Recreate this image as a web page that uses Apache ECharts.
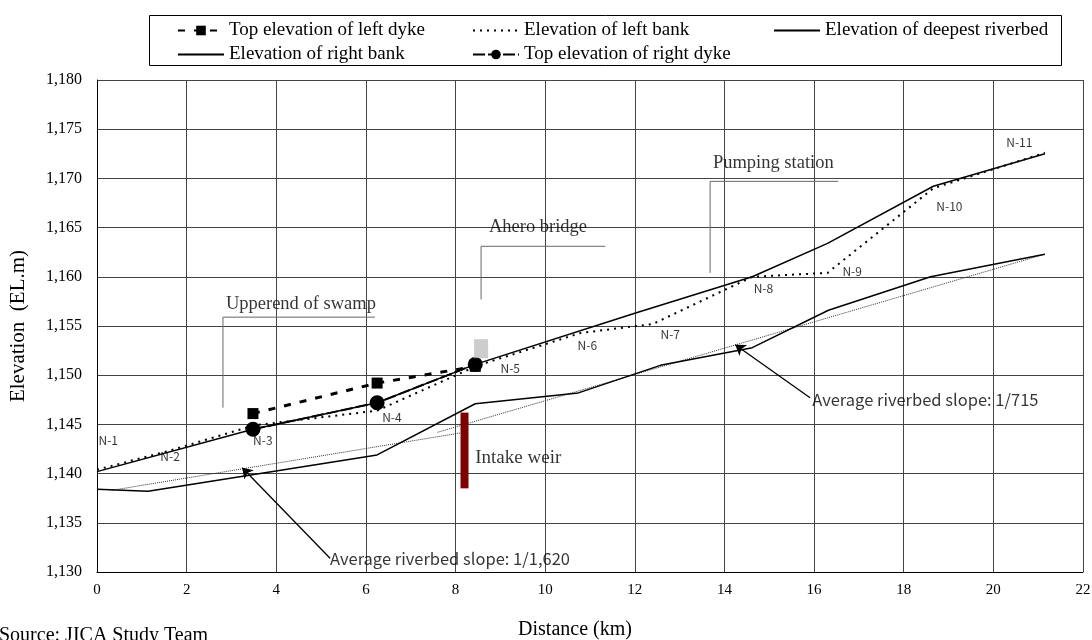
<!DOCTYPE html>
<html>
<head>
<meta charset="utf-8">
<title>River profile</title>
<script src="https://cdn.jsdelivr.net/npm/echarts@6.0.0/dist/echarts.min.js"></script>
<style>
  html, body { margin: 0; padding: 0; background: #fff; }
  #main { width: 1092px; height: 640px; }
</style>
</head>
<body>
<div id="main"></div>
<script>
// 数据（距离 km / 高程 m）
var xTicks = [0, 2, 4, 6, 8, 10, 12, 14, 16, 18, 20, 22];
var yTicks = [1130, 1135, 1140, 1145, 1150, 1155, 1160, 1165, 1170, 1175, 1180];

var leftDykeX = [3.48, 6.25, 8.44];
var leftDykeY = [1146.1, 1149.2, 1150.9];

var leftBankX = [0, 1.6, 3.5, 6.25, 8.5, 10.8, 12.4, 14.62, 16.3, 18.66, 21.15];
var leftBankY = [1140.4, 1142.3, 1144.9, 1146.4, 1151.0, 1154.3, 1155.2, 1160.0, 1160.4, 1169.0, 1172.6];

var riverbedX = [0, 1.14, 6.25, 8.44, 10.74, 12.57, 14.62, 16.32, 18.6, 21.15];
var riverbedY = [1138.4, 1138.2, 1141.9, 1147.1, 1148.2, 1151.0, 1152.8, 1156.6, 1160.0, 1162.3];

var rightBankX = [0, 3.48, 6.25, 8.44, 12.0, 14.62, 16.3, 18.66, 21.15];
var rightBankY = [1140.2, 1144.5, 1147.2, 1151.1, 1156.3, 1160.0, 1163.4, 1169.2, 1172.5];

var rightDykeX = [3.48, 6.25, 8.44];
var rightDykeY = [1144.5, 1147.2, 1151.1];

// 平均河床坡度线
var slope1X = [0.33, 8.2];
var slope1Y = [1138.3, 1144.2];
var slope2X = [7.6, 21.15];
var slope2Y = [1144.2, 1162.3];

// 取水堰、桥墩
var weirX = [8.2, 8.2];
var weirY = [1138.5, 1146.2];
var pierPoint = [8.57, 1152.7];

// 断面编号
var sectionNames = ['N-1', 'N-2', 'N-3', 'N-4', 'N-5', 'N-6', 'N-7', 'N-8', 'N-9', 'N-10', 'N-11'];
var sectionX = [0.25, 1.63, 3.7, 6.58, 9.22, 10.94, 12.79, 14.87, 16.85, 19.02, 20.58];
var sectionY = [1143.4, 1141.7, 1143.4, 1145.75, 1150.7, 1153.0, 1154.1, 1158.8, 1160.5, 1167.1, 1173.7];

// 标注文字与引线
var noteNames = ['Upperend of swamp', 'Ahero bridge', 'Pumping station'];
var noteX = [4.55, 9.84, 15.09];
var noteY = [1157.2, 1165.0, 1171.6];
var swampLeader = [[2.81, 1146.7], [2.81, 1155.9], [6.2, 1155.9]];
var bridgeLeader = [[8.57, 1157.7], [8.57, 1163.1], [11.34, 1163.1]];
var pumpLeader = [[13.68, 1160.4], [13.68, 1169.7], [16.54, 1169.7]];

var slopeNames = ['Average riverbed slope: 1/1,620', 'Average riverbed slope: 1/715'];
var slopeTextX = [5.2, 15.96];
var slopeTextY = [1131.3, 1147.5];
var arrowFrom = [[5.2, 1131.4], [15.91, 1147.7]];
var arrowTo = [[3.24, 1140.6], [14.24, 1153.1]];

function zip(xs, ys) {
  return xs.map(function (x, i) { return [x, ys[i]]; });
}

var serif = 'Liberation Serif';
var gothic = 'Noto Sans CJK JP';

var myChart = echarts.init(document.getElementById('main'));

// 每个图例单独放置；lineOnly 时隐藏默认的圆点
function legendAt(name, left, top, lineOnly) {
  var lg = {
    data: [name], left: left, top: top,
    itemWidth: 46, itemHeight: 12, itemGap: 6,
    textStyle: { fontFamily: serif, fontSize: 19, color: '#000' },
    selectedMode: false
  };
  if (lineOnly) {
    lg.itemStyle = { opacity: 0 };
  }
  return lg;
}

function leader(pts) {
  return {
    type: 'line', data: pts, symbol: 'none', silent: true, z: 1,
    lineStyle: { color: '#666', width: 1 }
  };
}

var option = {
  animation: false,
  backgroundColor: '#fff',
  legend: [
    legendAt('Top elevation of left dyke', 172, 16, false),
    legendAt('Elevation of left bank', 467, 16, true),
    legendAt('Elevation of deepest riverbed', 768, 16, true),
    legendAt('Elevation of right bank', 172, 40, true),
    legendAt('Top elevation of right dyke', 467, 40, false)
  ],
  graphic: [
    {
      type: 'rect', left: 147, top: 13, silent: true,
      shape: { width: 912, height: 50 },
      style: { fill: 'none', stroke: '#000', lineWidth: 1 }
    },
    {
      type: 'text', left: -1, top: 626, silent: true,
      style: { text: 'Source: JICA Study Team', font: '20px ' + serif, fill: '#000' }
    }
  ],
  grid: { left: 97, right: 9, top: 80, bottom: 68, containLabel: false, outerBoundsMode: 'none' },
  xAxis: {
    type: 'value', min: 0, max: 22, interval: 2,
    name: 'Distance (km)', nameLocation: 'middle', nameGap: 48,
    nameTextStyle: { fontFamily: serif, fontSize: 20, color: '#000', padding: [0, 30, 0, 0] },
    axisLine: { lineStyle: { color: '#000' } },
    axisTick: { show: false },
    axisLabel: { fontFamily: serif, fontSize: 15, color: '#000', margin: 11 },
    splitLine: { lineStyle: { color: '#444', width: 1 } }
  },
  yAxis: {
    type: 'value', min: 1130, max: 1180, interval: 5,
    name: 'Elevation  (EL.m)', nameLocation: 'middle', nameGap: 68,
    nameTextStyle: { fontFamily: serif, fontSize: 21, color: '#000' },
    axisLine: { show: true, lineStyle: { color: '#000' } },
    axisTick: { show: false },
    axisLabel: {
      fontFamily: serif, fontSize: 16, color: '#000', margin: 15,
      formatter: function (v) { return v.toLocaleString('en-US'); }
    },
    splitLine: { lineStyle: { color: '#444', width: 1 } }
  },
  series: [
    leader(swampLeader),
    leader(bridgeLeader),
    leader(pumpLeader),
    {
      name: 'slope1', type: 'line', data: zip(slope1X, slope1Y), symbol: 'none', z: 2,
      lineStyle: { color: '#333', width: 1, type: [1, 1] }
    },
    {
      name: 'slope2', type: 'line', data: zip(slope2X, slope2Y), symbol: 'none', z: 2,
      lineStyle: { color: '#333', width: 1, type: [1, 1] }
    },
    {
      name: 'Elevation of deepest riverbed', type: 'line', data: zip(riverbedX, riverbedY),
      symbol: 'none', z: 3, itemStyle: { color: '#000' },
      lineStyle: { color: '#000', width: 1.5 }
    },
    {
      name: 'Elevation of left bank', type: 'line', data: zip(leftBankX, leftBankY),
      symbol: 'none', z: 3, itemStyle: { color: '#000' },
      lineStyle: { color: '#000', width: 2, type: [2, 5] }
    },
    {
      name: 'Elevation of right bank', type: 'line', data: zip(rightBankX, rightBankY),
      symbol: 'none', z: 3, itemStyle: { color: '#000' },
      lineStyle: { color: '#000', width: 1.5 }
    },
    {
      name: 'Top elevation of left dyke', type: 'line', data: zip(leftDykeX, leftDykeY),
      symbol: 'rect', symbolSize: 11, showAllSymbol: true, z: 4,
      itemStyle: { color: '#000' },
      lineStyle: { color: '#000', width: 3, type: [7, 9] }
    },
    {
      name: 'Top elevation of right dyke', type: 'line', data: zip(rightDykeX, rightDykeY),
      symbol: 'circle', symbolSize: 15, showAllSymbol: true, z: 5,
      itemStyle: { color: '#000' },
      lineStyle: { color: '#000', width: 2, type: [12, 3] }
    },
    {
      name: 'weir', type: 'line', data: zip(weirX, weirY), symbol: 'none', z: 6,
      lineStyle: { color: '#800000', width: 8, cap: 'butt' }
    },
    {
      name: 'pier', type: 'scatter', data: [pierPoint], symbol: 'rect', symbolSize: [14, 19], z: 6,
      itemStyle: { color: '#c0c0c0' }
    },
    {
      name: 'arrows', type: 'line', data: [], silent: true,
      markLine: {
        silent: true, animation: false,
        symbol: ['none', 'arrow'], symbolSize: 10,
        lineStyle: { color: '#000', width: 1.3, type: 'solid' },
        label: { show: false },
        data: arrowFrom.map(function (p, i) {
          return [{ coord: p }, { coord: arrowTo[i] }];
        })
      }
    },
    {
      name: 'sections', type: 'scatter', symbolSize: 1, silent: true, z: 7,
      itemStyle: { color: 'rgba(0,0,0,0)' },
      data: sectionNames.map(function (n, i) { return { name: n, value: [sectionX[i], sectionY[i]] }; }),
      label: {
        show: true, position: 'inside', formatter: '{b}',
        fontFamily: gothic, fontSize: 12, color: '#000'
      }
    },
    {
      name: 'notes', type: 'scatter', symbolSize: 1, silent: true, z: 7,
      itemStyle: { color: 'rgba(0,0,0,0)' },
      data: noteNames.map(function (n, i) { return { name: n, value: [noteX[i], noteY[i]] }; }),
      label: {
        show: true, position: 'inside', formatter: '{b}',
        fontFamily: serif, fontSize: 18.5, color: '#000'
      }
    },
    {
      name: 'weirNote', type: 'scatter', symbolSize: 1, silent: true, z: 7,
      itemStyle: { color: 'rgba(0,0,0,0)' },
      data: [{ name: 'Intake weir', value: [8.44, 1141.6] }],
      label: {
        show: true, position: 'inside', align: 'left', formatter: '{b}',
        fontFamily: serif, fontSize: 19, color: '#000'
      }
    },
    {
      name: 'slopeNotes', type: 'scatter', symbolSize: 1, silent: true, z: 7,
      itemStyle: { color: 'rgba(0,0,0,0)' },
      data: slopeNames.map(function (n, i) { return { name: n, value: [slopeTextX[i], slopeTextY[i]] }; }),
      label: {
        show: true, position: 'inside', align: 'left', formatter: '{b}',
        fontFamily: gothic, fontSize: 16.5, color: '#000'
      }
    }
  ]
};

myChart.setOption(option);
</script>
</body>
</html>
